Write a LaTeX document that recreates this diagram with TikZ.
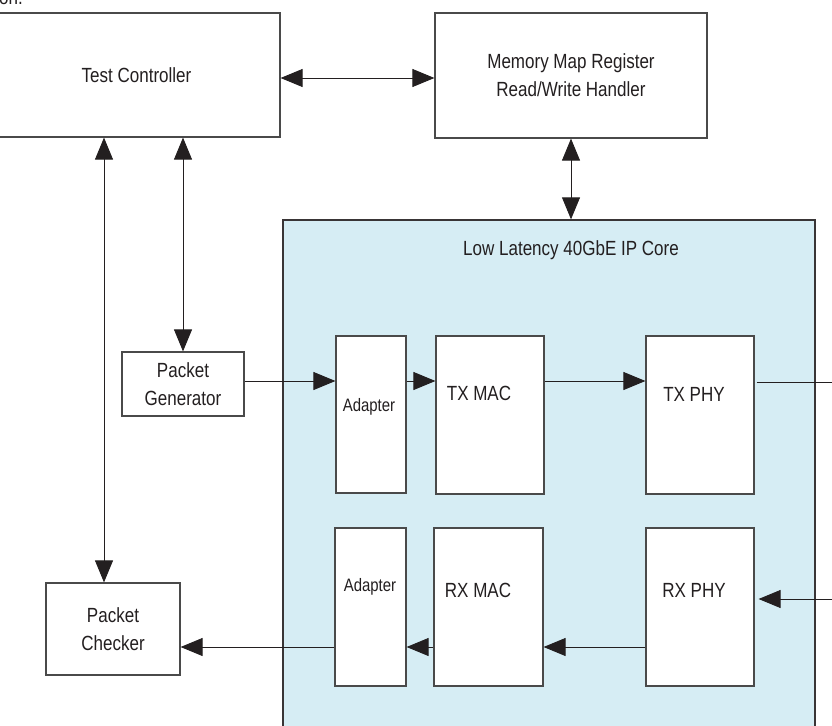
\documentclass[tikz,border=0pt]{standalone}
\usepackage{fontspec}
\setmainfont{Liberation Sans}[FakeStretch=0.83]
\usetikzlibrary{arrows.meta}
\definecolor{corefill}{HTML}{D6EDF4}
\definecolor{edge}{HTML}{4A4A4A}
\definecolor{ink}{HTML}{231F20}
\begin{document}
\begin{tikzpicture}[x=1pt,y=-1pt,
  every node/.style={font=\fontsize{20.5}{28}\selectfont, text=ink},
  blk/.style={draw=edge, line width=1.2pt, fill=white, inner sep=0pt, align=center},
  small/.style={font=\fontsize{18}{22}\selectfont},
  link/.style={draw=ink, line width=0.9pt},
  tip/.style={-{Triangle[length=22pt,width=18pt]}},
  tips/.style={{Triangle[length=22pt,width=18pt]}-{Triangle[length=22pt,width=18pt]}}]
\useasboundingbox (0,0) rectangle (832,725);

% fragment of the preceding sentence
\node[anchor=base west, inner sep=0pt] (frag) at (-1,5) {on.};

% IP core container
\node[draw=ink!90, line width=1.3pt, fill=corefill, minimum width=532pt, minimum height=540pt, inner sep=0pt] (core) at (549,490) {};
\node (coretitle) at (571,250) {Low Latency 40GbE IP Core};

% top-level blocks
\node[blk, minimum width=287pt, minimum height=124pt] (tc) at (136.5,75) {Test Controller};
\node[blk, minimum width=272pt, minimum height=125pt] (mem) at (571,75.5) {Memory Map Register\\Read/Write Handler};
\node[blk, minimum width=122pt, minimum height=64pt] (pg) at (183,384) {Packet\\Generator};
\node[blk, minimum width=134pt, minimum height=92pt] (pc) at (113,629) {Packet\\Checker};

% transmit path
\node[blk, minimum width=70pt, minimum height=157pt] (ad1) at (371,414.5) {};
\node[small] (ad1l) at (369,407) {Adapter};
\node[blk, minimum width=108pt, minimum height=158pt] (txmac) at (490,415) {};
\node (txmacl) at (479,393) {TX MAC};
\node[blk, minimum width=108pt, minimum height=158pt] (txphy) at (700,415) {};
\node (txphyl) at (694,394) {TX PHY};

% receive path
\node[blk, minimum width=71pt, minimum height=158pt] (ad2) at (370.5,607) {};
\node[small] (ad2l) at (370,587) {Adapter};
\node[blk, minimum width=109pt, minimum height=158pt] (rxmac) at (488.5,607) {};
\node (rxmacl) at (478,590) {RX MAC};
\node[blk, minimum width=108pt, minimum height=158pt] (rxphy) at (700,607) {};
\node (rxphyl) at (694,590) {RX PHY};

% free ends at the right border
\coordinate (txout) at (834,382);
\coordinate (rxin) at (834,599);

% control connections
\draw[link, tips] (tc.east |- 0,78) -- (mem.west |- 0,78);
\draw[link, tips] (mem.south) -- (core.north -| mem.south);
\draw[link, tips] (tc.south -| 104,0) -- (pc.north -| 104,0);
\draw[link, tips] (tc.south -| pg.north) -- (pg.north);

% data path
\draw[link, tip] (pg.east |- 0,381) -- (ad1.west |- 0,381);
\draw[link, tip] (ad1.east |- 0,381) -- (txmac.west |- 0,381);
\draw[link, tip] (txmac.east |- 0,381) -- (txphy.west |- 0,381);
\draw[link, shorten <=2pt] (txphy.east |- txout) -- (txout);
\draw[link, tip, shorten >=4pt] (rxin) -- (rxphy.east |- rxin);
\draw[link, tip] (rxphy.west |- 0,647) -- (rxmac.east |- 0,647);
\draw[link, tip] (rxmac.west |- 0,647) -- (ad2.east |- 0,647);
\draw[link, tip] (ad2.west |- 0,647) -- (pc.east |- 0,647);
\end{tikzpicture}
\end{document}
